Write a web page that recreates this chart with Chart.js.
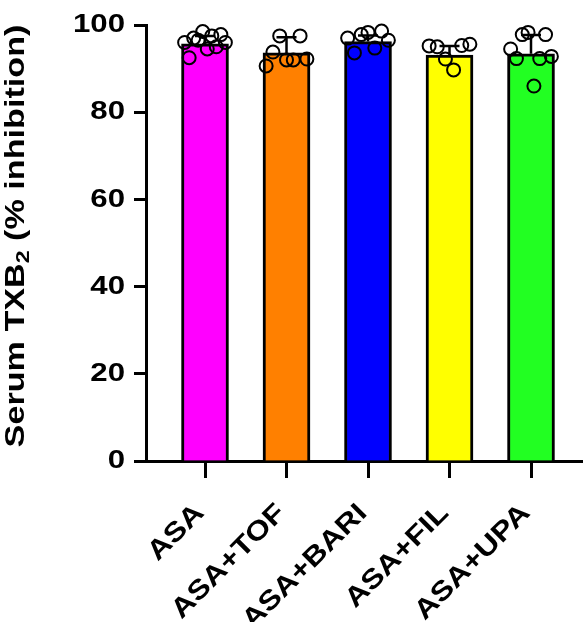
<!DOCTYPE html>
<html lang="en">
<head>
<meta charset="UTF-8">
<title>Serum TXB2 inhibition</title>
<script src="https://cdn.jsdelivr.net/npm/chart.js@4"></script>
<style>
    html, body { margin: 0; padding: 0; background: #ffffff; overflow: hidden; }
    #wrap { width: 583px; height: 622px; }
    canvas { display: block; }
</style>
</head>
<body>
<div id="wrap"><canvas id="chart" width="583" height="622"></canvas></div>
<script>
// data
const groups = ['ASA', 'ASA+TOF', 'ASA+BARI', 'ASA+FIL', 'ASA+UPA'];
const barColors = ['#ff00ff', '#ff8000', '#0000ff', '#ffff00', '#22ff22'];
const means = [95.7, 93.6, 96.2, 93.1, 93.4];
const sds = [1.8, 3.6, 1.4, 2.1, 4.3];
// individual animals, left to right as they appear
const ptsASA = [96.0, 92.5, 97.0, 96.5, 98.5, 94.5, 97.5, 95.0, 97.8, 96.0];
const ptsTOF = [90.6, 93.8, 97.5, 92.0, 92.0, 97.5, 92.2];
const ptsBARI = [97.0, 93.6, 97.8, 98.3, 94.7, 98.6, 96.5];
const ptsFIL = [95.2, 95.0, 92.2, 89.7, 95.3, 95.6];
const ptsUPA = [94.5, 92.3, 97.8, 98.3, 86.0, 92.3, 97.8, 92.8];
const yTicks = [0, 20, 40, 60, 80, 100];

const allPts = [ptsASA, ptsTOF, ptsBARI, ptsFIL, ptsUPA];
const FONT = '"Liberation Sans", Arial, Helvetica, sans-serif';

// spread each group's points across the bar
const scatterData = [];
allPts.forEach((vals, g) => {
    const n = vals.length;
    vals.forEach((v, k) => {
        const off = n > 1 ? -0.25 + 0.5 * k / (n - 1) : 0;
        scatterData.push({ x: g + off, y: v });
    });
});

// error bars (upper arm only, like the original)
const errorBars = {
    id: 'errorBars',
    afterDatasetDraw(chart, args) {
        if (args.index !== 1) return;
        const ctx = chart.ctx, xs = chart.scales.x, ys = chart.scales.y;
        ctx.save();
        ctx.strokeStyle = '#000';
        ctx.lineWidth = 2.5;
        means.forEach((m, i) => {
            const x = xs.getPixelForValue(i);
            const y0 = ys.getPixelForValue(m);
            const y1 = ys.getPixelForValue(m + sds[i]);
            ctx.beginPath();
            ctx.moveTo(x, y0);
            ctx.lineTo(x, y1);
            ctx.moveTo(x - 10, y1);
            ctx.lineTo(x + 10, y1);
            ctx.stroke();
        });
        ctx.restore();
    }
};

// bold, slightly wide labels the way the original prints them
function wideText(ctx, text, x, y, angle, size, stretch, align) {
    ctx.save();
    ctx.translate(x, y);
    ctx.rotate(angle);
    ctx.scale(stretch, 1);
    ctx.font = 'bold ' + size + 'px ' + FONT;
    ctx.textAlign = align;
    ctx.textBaseline = 'middle';
    ctx.fillText(text, 0, 0);
    ctx.restore();
}

const axisText = {
    id: 'axisText',
    afterDraw(chart) {
        const ctx = chart.ctx, xs = chart.scales.x, ys = chart.scales.y;
        ctx.save();
        ctx.fillStyle = '#000';
        ys.ticks.forEach(t => {
            wideText(ctx, String(t.value), 125, ys.getPixelForValue(t.value), 0, 26, 1.2, 'right');
        });
        const base = ys.getPixelForValue(0);
        xs.ticks.forEach(t => {
            wideText(ctx, groups[t.value], xs.getPixelForValue(t.value) - 5, base + 48, -Math.PI / 4, 27, 1.18, 'right');
        });

        // y title with subscript 2
        const parts = [
            { t: 'Serum TXB', s: 28, dy: 0 },
            { t: '2', s: 19, dy: 8 },
            { t: ' (% inhibition)', s: 28, dy: 0 }
        ];
        let total = 0;
        parts.forEach(p => {
            ctx.font = 'bold ' + p.s + 'px ' + FONT;
            p.w = ctx.measureText(p.t).width;
            total += p.w;
        });
        ctx.translate(16, 236);
        ctx.rotate(-Math.PI / 2);
        ctx.scale(1.22, 1);
        ctx.textAlign = 'left';
        ctx.textBaseline = 'middle';
        let cx = -total / 2;
        parts.forEach(p => {
            ctx.font = 'bold ' + p.s + 'px ' + FONT;
            ctx.fillText(p.t, cx, p.dy);
            cx += p.w;
        });
        ctx.restore();
    }
};

new Chart(document.getElementById('chart'), {
    data: {
        datasets: [
            {
                type: 'scatter',
                order: 0,
                data: scatterData,
                pointRadius: 6.5,
                pointBorderWidth: 2,
                pointBorderColor: '#000',
                pointBackgroundColor: 'rgba(0,0,0,0)',
                clip: false
            },
            {
                type: 'bar',
                order: 1,
                data: means.map((m, i) => ({ x: i, y: m })),
                backgroundColor: barColors,
                borderColor: '#000',
                borderWidth: 3,
                barThickness: 47
            }
        ]
    },
    options: {
        responsive: false,
        animation: false,
        layout: { autoPadding: false, padding: { top: 25, right: 0, left: 0, bottom: 0 } },
        plugins: { legend: { display: false }, tooltip: { enabled: false } },
        scales: {
            x: {
                type: 'linear',
                offset: false,
                min: -0.724,
                max: 4.638,
                afterBuildTicks: s => { s.ticks = groups.map((g, i) => ({ value: i })); },
                afterFit: s => {
                    s.height = 161;
                    s.paddingLeft = 0;
                    s.paddingRight = 0;
                },
                ticks: { display: false },
                grid: { offset: false, drawOnChartArea: false, drawTicks: true, tickLength: 17, tickWidth: 3, tickColor: '#000' },
                border: { display: true, width: 3, color: '#000' }
            },
            y: {
                type: 'linear',
                min: 0,
                max: 100,
                afterBuildTicks: s => { s.ticks = yTicks.map(v => ({ value: v })); },
                afterFit: s => {
                    s.width = 146;
                    s.paddingTop = 0;
                    s.paddingBottom = 0;
                },
                ticks: { display: false },
                grid: { drawOnChartArea: false, drawTicks: true, tickLength: 12, tickWidth: 3, tickColor: '#000' },
                border: { display: true, width: 3, color: '#000' }
            }
        }
    },
    plugins: [errorBars, axisText]
});
</script>
</body>
</html>
